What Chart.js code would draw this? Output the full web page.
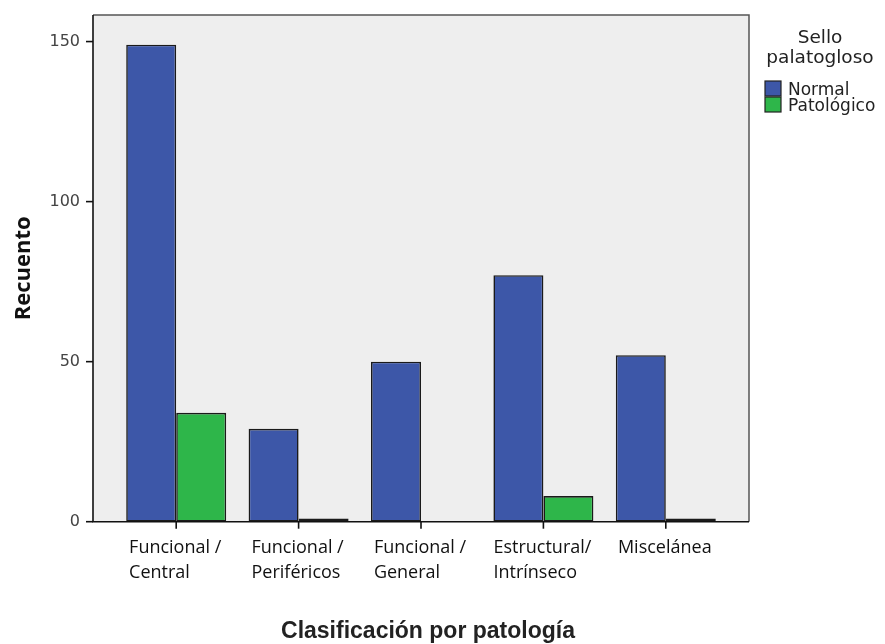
<!DOCTYPE html>
<html><head><meta charset="utf-8">
<script src="https://cdn.jsdelivr.net/npm/chart.js@4"></script>
<style>html,body{margin:0;padding:0;background:#fff}#wrap{width:885px;height:644px;position:relative}</style>
</head><body><div id="wrap"><canvas id="c" width="885" height="644"></canvas></div>
<script>
const categories = [["Funcional /","Central"],["Funcional /","Periféricos"],["Funcional /","General"],["Estructural/","Intrínseco"],["Miscelánea"]];
const seriesNames = ["Normal","Patológico"];
const normalValues = [149,29,50,77,52];
const patologicoValues = [34,1,0,8,1];
const seriesColors = ["#3d57a8","#2eb64a"];
const yTickValues = [0,50,100,150];
const yMax = 158.3;
const yTitle = "Recuento";
const xTitle = "Clasificación por patología";
const legendTitle = ["Sello","palatogloso"];

const EXTRA = 22; // frame extends beyond category area
const decor = {
  id: 'decor',
  beforeDatasetsDraw(chart) {
    const {ctx, chartArea: ca} = chart;
    ctx.save();
    ctx.fillStyle = '#eeeeee';
    ctx.fillRect(ca.left - EXTRA, ca.top, ca.right - ca.left + 2*EXTRA, ca.bottom - ca.top);
    ctx.restore();
  },
  afterDatasetsDraw(chart) {
    const {ctx, chartArea: ca, scales} = chart;
    const L = ca.left - EXTRA, R = ca.right + EXTRA, T = ca.top, B = ca.bottom;
    ctx.save();
    // top & right frame
    ctx.strokeStyle = '#555'; ctx.lineWidth = 1.5;
    ctx.beginPath(); ctx.moveTo(L, T); ctx.lineTo(R, T); ctx.lineTo(R, B); ctx.stroke();
    // axes
    ctx.strokeStyle = '#111'; ctx.lineWidth = 1.6;
    ctx.beginPath(); ctx.moveTo(L, T); ctx.lineTo(L, B); ctx.lineTo(R, B); ctx.stroke();
    // y tick marks and labels
    ctx.font = '16px "DejaVu Sans"';
    ctx.textAlign = 'right';
    ctx.textBaseline = 'middle';
    yTickValues.forEach(v => {
      const y = scales.y.getPixelForValue(v);
      ctx.beginPath(); ctx.moveTo(L - 7, y); ctx.lineTo(L, y); ctx.stroke();
      ctx.fillStyle = '#444';
      ctx.fillText(String(v), L - 13, y);
    });
    // x tick marks and labels
    ctx.font = '18px "Open Sans"';
    ctx.fillStyle = '#111';
    ctx.textBaseline = 'alphabetic';
    ctx.textAlign = 'left';
    categories.forEach((lab, i) => {
      const x = scales.x.getPixelForTick(i);
      ctx.beginPath(); ctx.moveTo(x, B); ctx.lineTo(x, B + 7); ctx.stroke();
      const w = Math.max(...lab.map(s => ctx.measureText(s).width));
      lab.forEach((s, j) => ctx.fillText(s, x - w/2 - 1, 553 + j*25));
    });
    // axis titles
    ctx.fillStyle = '#222';
    ctx.font = 'bold 23px "Liberation Sans"';
    ctx.textAlign = 'center';
    ctx.fillText(xTitle, 428, 638);
    ctx.save();
    ctx.translate(30, (T + B)/2);
    ctx.rotate(-Math.PI/2);
    ctx.font = 'bold 22px "Open Sans"';
    ctx.fillStyle = '#111';
    ctx.fillText(yTitle, 0, 0);
    ctx.restore();
    // legend
    ctx.fillStyle = '#222';
    ctx.font = '18.5px "DejaVu Sans"';
    ctx.textAlign = 'center';
    legendTitle.forEach((s, j) => ctx.fillText(s, 820, 43 + j*20));
    ctx.textAlign = 'left';
    ctx.font = '17px "DejaVu Sans"';
    chart.data.datasets.forEach((ds, j) => {
      const y0 = 81 + j*16;
      ctx.fillStyle = ds.backgroundColor;
      ctx.fillRect(765, y0, 16, 15);
      ctx.strokeStyle = '#222'; ctx.lineWidth = 1.2;
      ctx.strokeRect(765, y0, 16, 15);
      ctx.fillStyle = '#222';
      ctx.fillText(ds.label, 788, y0 + 14);
    });
    ctx.restore();
  }
};

new Chart(document.getElementById('c'), {
  type: 'bar',
  data: {
    labels: categories,
    datasets: [
      {label: seriesNames[0], data: normalValues, backgroundColor: seriesColors[0], borderColor: '#1a1a1a', borderWidth: 1.6, borderSkipped: false},
      {label: seriesNames[1], data: patologicoValues, backgroundColor: seriesColors[1], borderColor: '#1a1a1a', borderWidth: 1.6, borderSkipped: false}
    ]
  },
  options: {
    responsive: false,
    animation: false,
    devicePixelRatio: 1,
    layout: {padding: {left: 0, right: 158, top: 15, bottom: 0}},
    datasets: {bar: {categoryPercentage: 0.817, barPercentage: 1}},
    plugins: {legend: {display: false}, tooltip: {enabled: false}},
    scales: {
      x: {
        offset: true,
        grid: {display: false, drawTicks: false},
        border: {display: false},
        ticks: {display: false},
        afterFit: s => { s.height = 122.3; }
      },
      y: {
        min: 0, max: yMax,
        grid: {display: false, drawTicks: false},
        border: {display: false},
        afterBuildTicks: s => { s.ticks = yTickValues.map(v => ({value: v})); },
        ticks: {display: false, padding: 0},
        afterFit: s => { s.width = 115; }
      }
    }
  },
  plugins: [decor]
});
</script></body></html>
